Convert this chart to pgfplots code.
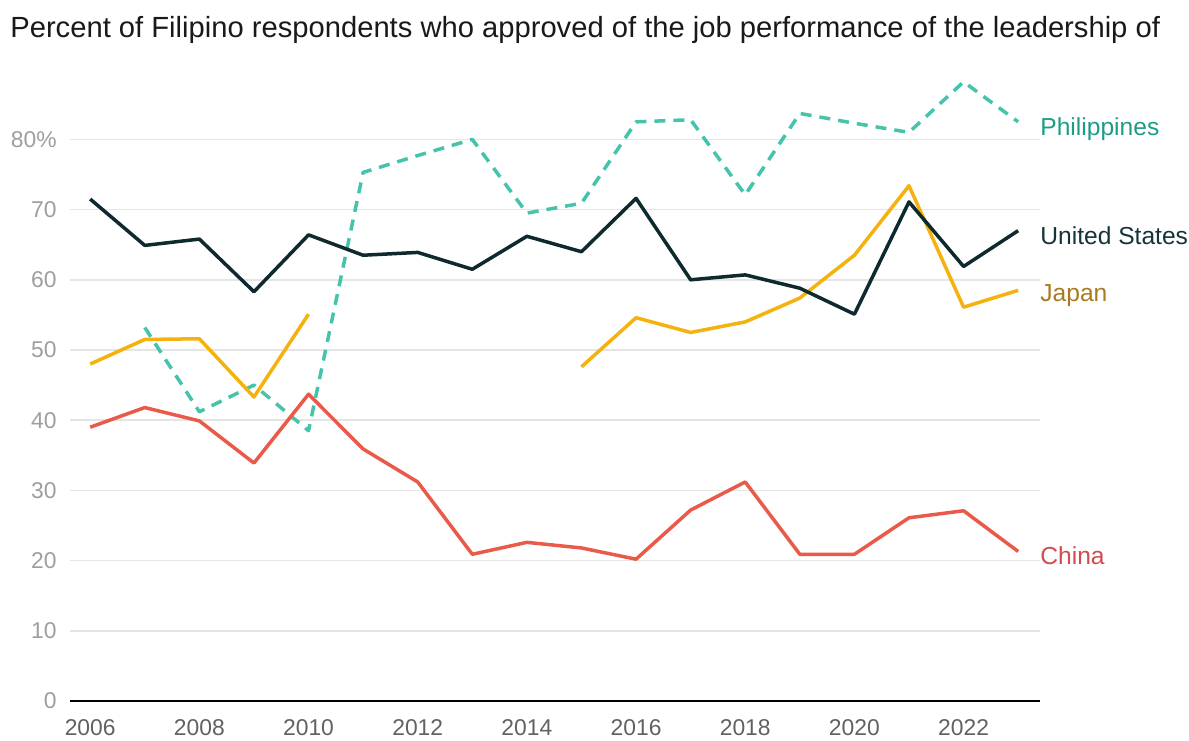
\documentclass[border=0pt]{standalone}
\usepackage{fontspec}
\setmainfont{Liberation Sans}
\usepackage{pgfplots}
\pgfplotsset{compat=1.18}

\definecolor{phl}{HTML}{45C4AB}
\definecolor{phllab}{HTML}{1F9C87}
\definecolor{usa}{HTML}{0E2A2E}
\definecolor{usalab}{HTML}{17333A}
\definecolor{jpn}{HTML}{F5B20F}
\definecolor{jpnlab}{HTML}{A67C1F}
\definecolor{chn}{HTML}{EA5A4A}
\definecolor{chnlab}{HTML}{D14B50}

\begin{document}
\begin{tikzpicture}
\useasboundingbox (-14mm,-7.8mm) rectangle (223.8mm,140.2mm);
\begin{axis}[
    scale only axis,
    width=194mm, height=126.36mm,
    xmin=2005.63, xmax=2023.40,
    ymin=0, ymax=90,
    clip=false,
    axis line style={draw=none},
    major tick length=0pt,
    tick style={draw=none},
    ymajorgrids,
    grid style={draw=black!10, line width=0.3mm},
    ytick={0,10,...,80},
    yticklabels={0,10,20,30,40,50,60,70,80\%},
    extra y ticks={0},
    extra y tick labels={},
    extra y tick style={grid style={draw=black, line width=0.4mm}},
    xtick={2006,2008,...,2022},
    xticklabels={2006,2008,2010,2012,2014,2016,2018,2020,2022},
    yticklabel style={anchor=east, inner sep=0pt, xshift=-2.6mm,
        font=\fontsize{13}{15}\selectfont, text=black!38},
    xticklabel style={anchor=north, inner sep=0pt, yshift=-3.7mm,
        font=\fontsize{13}{15}\selectfont, text=black!62},
    every axis plot/.append style={line width=0.7mm, line join=round, mark=none},
]
% Philippines (dashed)
\addplot[phl, dash pattern=on 2.2mm off 1.6mm] coordinates {
    (2007,53.2) (2008,41.2) (2009,45.0) (2010,38.5) (2011,75.3)
    (2012,77.7) (2013,80.0) (2014,69.5) (2015,70.9) (2016,82.5)
    (2017,82.8) (2018,72.1) (2019,83.7) (2020,82.3) (2021,81.0)
    (2022,88.2) (2023,82.5)
};
% China
\addplot[chn] coordinates {
    (2006,39.0) (2007,41.8) (2008,39.9) (2009,33.9) (2010,43.7)
    (2011,35.9) (2012,31.2) (2013,20.9) (2014,22.6) (2015,21.8)
    (2016,20.2) (2017,27.2) (2018,31.2) (2019,20.9) (2020,20.9)
    (2021,26.1) (2022,27.1) (2023,21.3)
};
% Japan (no data 2011-2014)
\addplot[jpn] coordinates {
    (2006,48.0) (2007,51.5) (2008,51.6) (2009,43.3) (2010,55.1)
};
\addplot[jpn] coordinates {
    (2015,47.6) (2016,54.6) (2017,52.5) (2018,54.0) (2019,57.4)
    (2020,63.5) (2021,73.4) (2022,56.1) (2023,58.5)
};
% United States
\addplot[usa] coordinates {
    (2006,71.5) (2007,64.9) (2008,65.8) (2009,58.3) (2010,66.4)
    (2011,63.5) (2012,63.9) (2013,61.5) (2014,66.2) (2015,64.0)
    (2016,71.6) (2017,60.0) (2018,60.7) (2019,58.8) (2020,55.1)
    (2021,71.1) (2022,61.9) (2023,67.0)
};

\begin{scope}[every node/.style={anchor=base west, inner sep=0pt,
        font=\fontsize{14}{17}\selectfont}]
\node[text=phllab] at (axis cs:2023.40,80.5) {Philippines};
\node[text=usalab] at (axis cs:2023.40,65.0) {United States};
\node[text=jpnlab] at (axis cs:2023.40,56.9) {Japan};
\node[text=chnlab] at (axis cs:2023.40,19.4) {China};
\end{scope}
\end{axis}
\node[anchor=base west, inner sep=0pt, font=\fontsize{16.6}{19}\selectfont,
    text=black!90] at (-12mm,132.6mm)
    {Percent of Filipino respondents who approved of the job performance of the leadership of};
\end{tikzpicture}
\end{document}
